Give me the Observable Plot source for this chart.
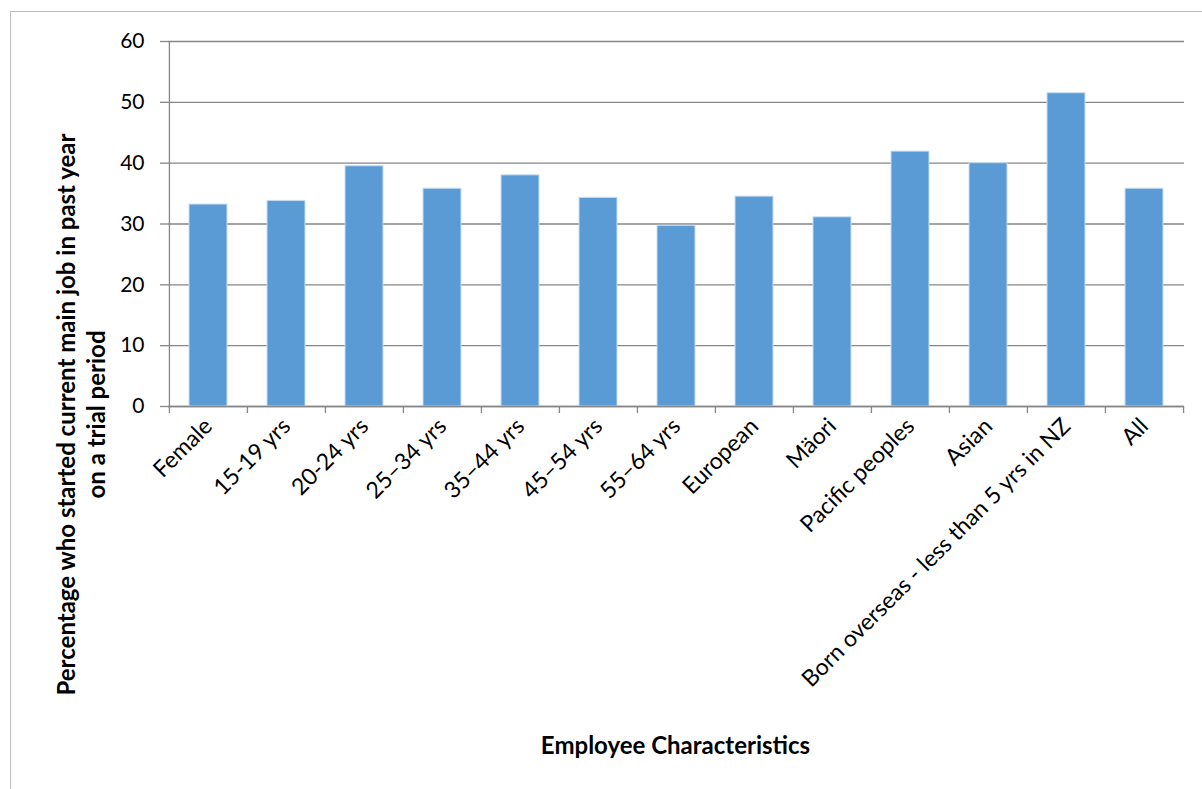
<!DOCTYPE html>
<html>
<head>
<meta charset="utf-8">
<script src="https://cdn.jsdelivr.net/npm/d3@7"></script>
<script src="https://cdn.jsdelivr.net/npm/@observablehq/plot@0.6"></script>
<style>
  html, body { margin: 0; padding: 0; background: #fff; }
  #wrap { position: relative; width: 1202px; height: 789px; overflow: hidden; }
  #border { position: absolute; left: 10px; top: 11px; width: 1300px; height: 900px; border-left: 1.5px solid #bdbdbd; border-top: 1.5px solid #bdbdbd; }
  #chart { position: absolute; left: 0; top: 0; }
</style>
</head>
<body>
<div id="wrap"><div id="border"></div><div id="chart"></div></div>
<script>
const categories = ["Female", "15-19 yrs", "20-24 yrs", "25–34 yrs", "35–44 yrs", "45–54 yrs", "55–64 yrs", "European", "Mäori", "Pacific peoples", "Asian", "Born overseas - less than 5 yrs in NZ", "All"];
const values = [33.2, 33.8, 39.5, 35.8, 38.0, 34.3, 29.7, 34.5, 31.1, 41.9, 40.0, 51.5, 35.8];
const yTicks = [0, 10, 20, 30, 40, 50, 60];
const yTitle = "Percentage who started current main job in past year\non a trial period";
const xTitle = "Employee Characteristics";

const data = categories.map((c, i) => ({category: c, value: values[i]}));

const W = 1202, H = 789;
const mL = 168, mR = 18, mT = 41, mB = 383;
const step = (W - mL - mR) / categories.length;
const font = "Lato, 'Open Sans', sans-serif";
const grid = "#868686";

const chart = Plot.plot({
  width: W,
  height: H,
  marginLeft: mL,
  marginRight: mR,
  marginTop: mT,
  marginBottom: mB,
  style: {fontFamily: font, color: "#000", background: "transparent", overflow: "visible"},
  x: {domain: categories, paddingInner: 0.514, paddingOuter: 0.257, align: 0.5, label: null},
  y: {domain: [0, 60], ticks: yTicks, label: null},
  marks: [
    Plot.ruleY(yTicks, {stroke: grid, strokeWidth: 1.3}),
    Plot.barY(data, {x: "category", y: "value", fill: "#5B9BD5", stroke: "#C9DDF2", strokeWidth: 1}),
    Plot.ruleY([0], {stroke: grid, strokeWidth: 1.3}),
    Plot.ruleX(categories.slice(0, 1), {x: d => d, y1: 0, y2: 60, dx: -step / 2, stroke: grid, strokeWidth: 1.3}),
    Plot.axisY({ticks: yTicks, tickSize: 8, tickPadding: 16, stroke: grid, strokeWidth: 1.3, fontSize: 21, tickFormat: d => String(d), label: null}),
    Plot.axisX({tickSize: 7, text: null, dx: -step / 2, stroke: grid, strokeWidth: 1.3, label: null}),
    Plot.axisX({ticks: categories.slice(-1), tickSize: 7, text: null, dx: step / 2, stroke: grid, strokeWidth: 1.3, label: null}),
    Plot.axisX({tickSize: 0, tickRotate: -45, tickPadding: 16, fontSize: 23, label: null}),
    Plot.text([yTitle], {frameAnchor: "left", dx: 80 - mL, dy: 375 - (mT + (H - mB)) / 2 + 39, rotate: -90, fontSize: 24, fontWeight: "bold", lineHeight: 1.25, textAnchor: "middle", lineAnchor: "middle", fill: "#000"}),
    Plot.text([xTitle], {frameAnchor: "bottom", dy: 746 - (H - mB), fontSize: 24, fontWeight: "bold", textAnchor: "middle", lineAnchor: "middle", fill: "#000", dx: 675 - (mL + (W - mL - mR) / 2)})
  ]
});
document.getElementById("chart").appendChild(chart);
</script>
</body>
</html>
